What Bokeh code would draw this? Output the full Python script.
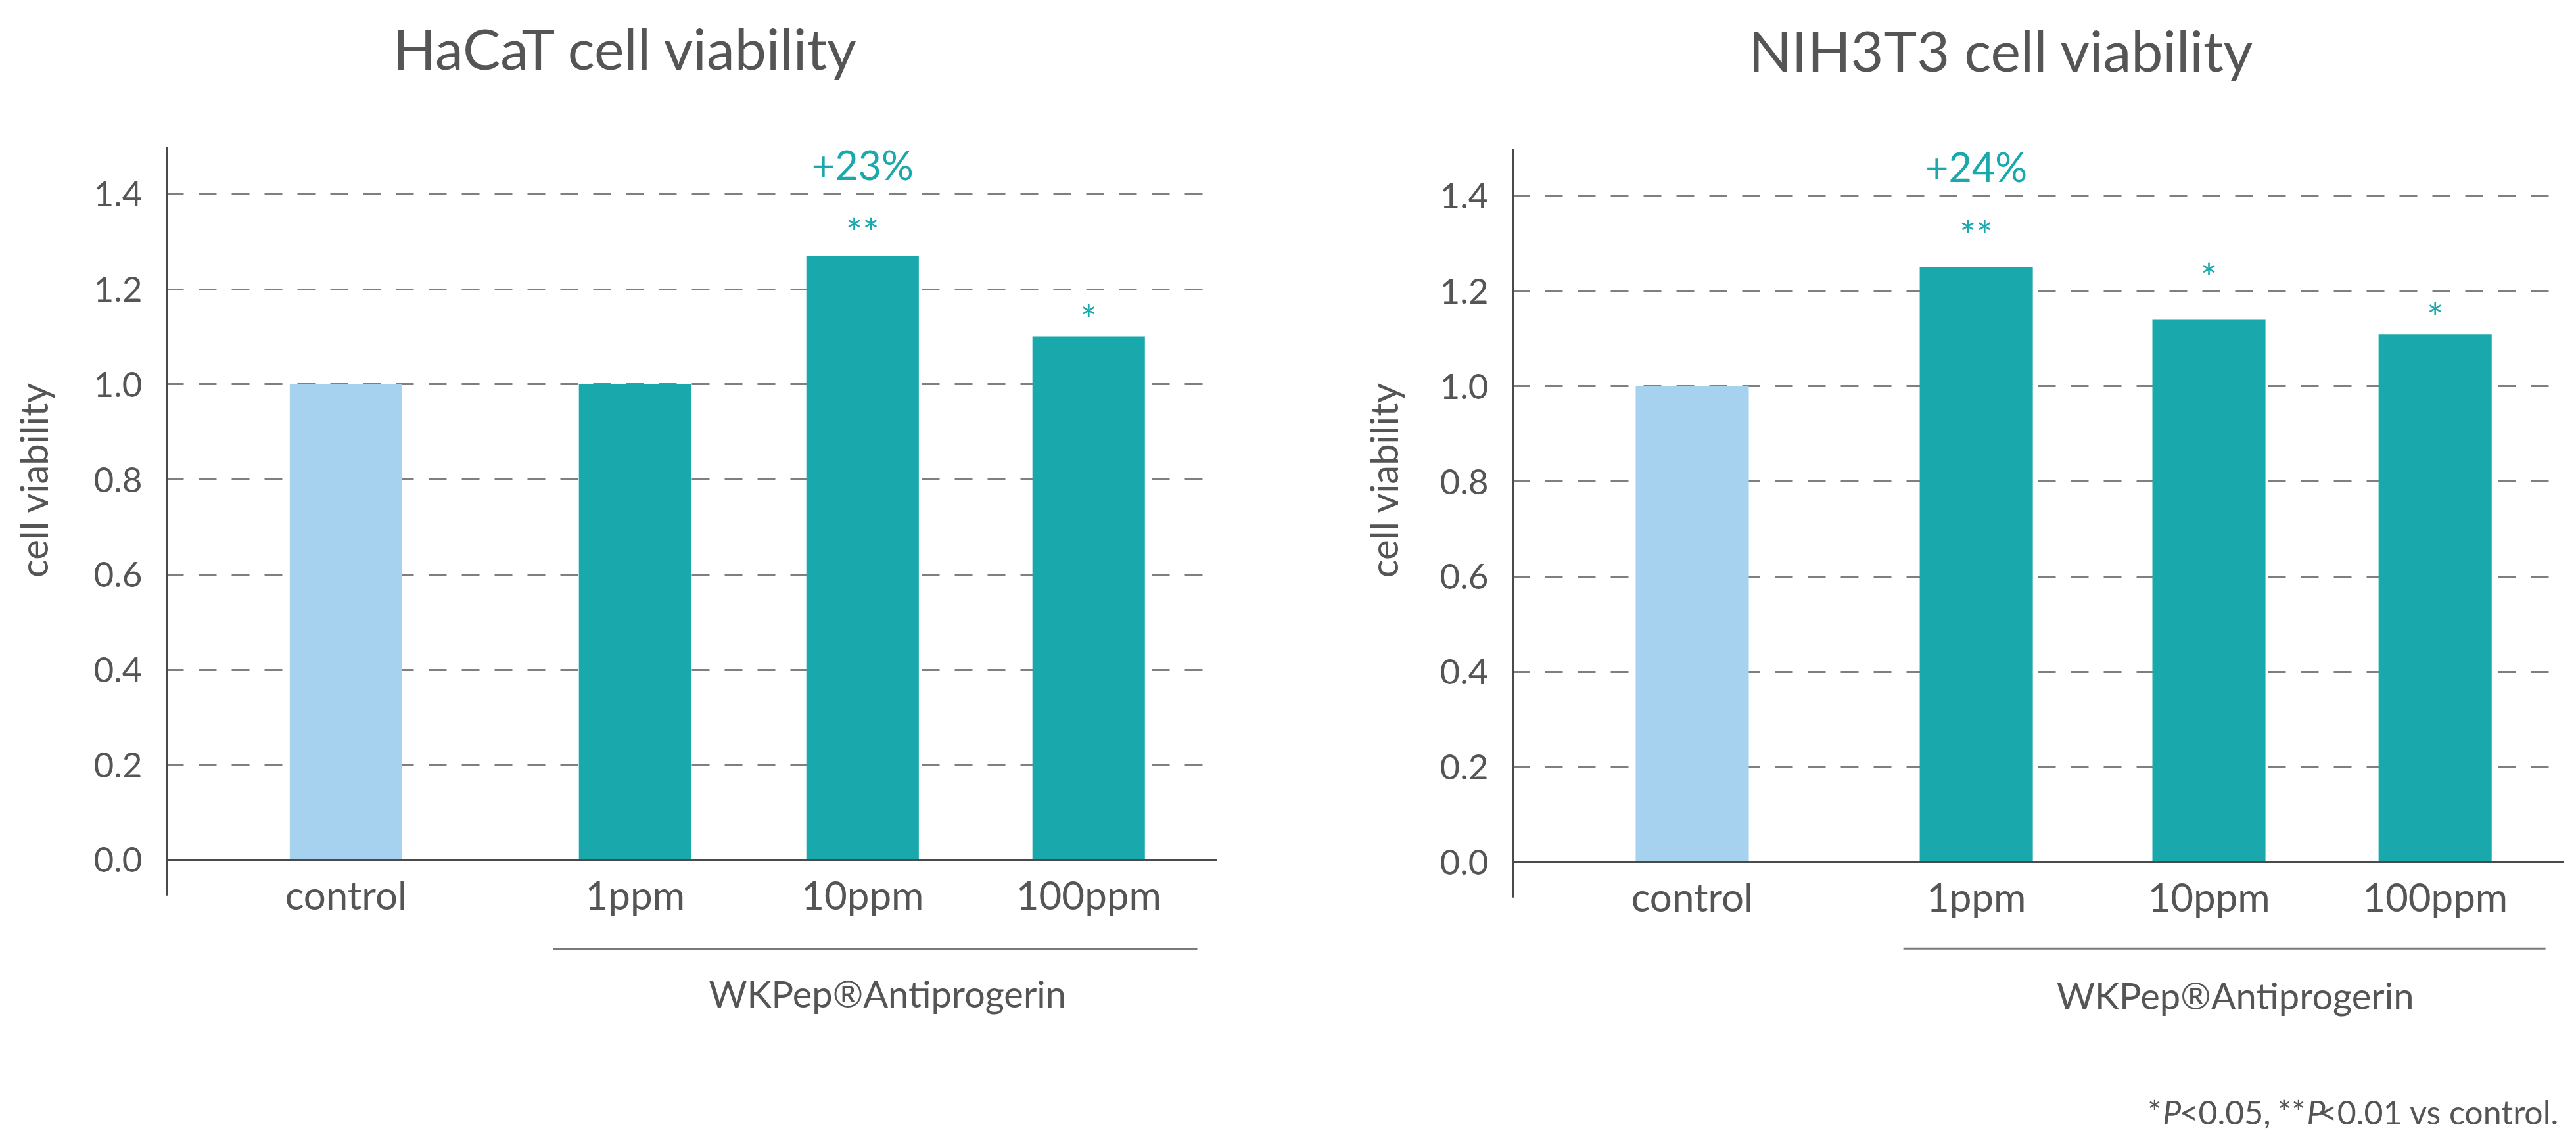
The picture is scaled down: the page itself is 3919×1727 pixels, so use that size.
import math
from bokeh.plotting import figure
from bokeh.models import ColumnDataSource, Range1d, FixedTicker, NumeralTickFormatter
from bokeh.layouts import row
from bokeh.embed import file_html
from bokeh.resources import INLINE
from bokeh.core.properties import value

# ---------------- data ----------------
categories = ["control", "1ppm", "10ppm", "100ppm"]
hacat_values = [1.00, 1.00, 1.27, 1.10]
nih_values = [1.00, 1.25, 1.14, 1.11]
hacat_stars = ["", "", "**", "*"]
nih_stars = ["", "**", "*", "*"]
hacat_gain = ("10ppm", "+23%")
nih_gain = ("1ppm", "+24%")
y_ticks = [0.0, 0.2, 0.4, 0.6, 0.8, 1.0, 1.2, 1.4]
y_tick_labels = ["0.0", "0.2", "0.4", "0.6", "0.8", "1.0", "1.2", "1.4"]
titles = ["HaCaT cell viability", "NIH3T3 cell viability"]
y_label = "cell viability"
group_label = "WKPep®Antiprogerin"
footnote = [("*", "normal"), ("P", "italic"), ("<0.05, ", "normal"), ("**", "normal"),
            ("P", "italic"), ("<0.01 vs control.", "normal")]

# ---------------- style ----------------
FONT = value("Lato")
TEAL = "#19a9ac"
LIGHT = "#a6d2f0"
TXT = "#555555"
AXIS = "#4a4a4a"
GRID = "#7f7f7f"
bar_colors = [LIGHT, TEAL, TEAL, TEAL]
H = 1725
SHIFT = 0.36  # empirical baseline correction (fraction of font size)

# layout (in axis units)
L_left = dict(strip=130, w=1878, mbl=122, mbr=157, xr=(-0.794, 3.841), yr=(-0.5763, 1.8076), unit=345.0,
              pos=[0, 1.275, 2.278, 3.275], bw=0.496,
              title_xy=(1.235, 1.665), star_y=[None, None, 1.34, 1.158], gain_y=1.432,
              bracket=(0.913, 3.754, -0.187), group_xy=(2.388, -0.309), ylab=(50, 0.799))
L_right = dict(strip=160, w=1749, mbl=132, mbr=17, xr=(-0.785, 3.799), yr=(-0.5721, 1.8118), unit=349.0,
               pos=[0, 1.238, 2.252, 3.238], bw=0.493,
               title_xy=(1.347, 1.665), star_y=[None, 1.339, 1.249, 1.166], gain_y=1.432,
               bracket=(0.92, 3.719, -0.182), group_xy=(2.367, -0.309), ylab=(96, 0.803))


def label_strip(L):
    s = figure(width=L["strip"], height=H, x_range=Range1d(0, L["strip"]), y_range=Range1d(*L["yr"]),
               output_backend="svg", toolbar_location=None, x_axis_location=None, y_axis_location=None,
               min_border_left=0, min_border_right=0, min_border_top=0, min_border_bottom=0)
    s.outline_line_color = None
    s.grid.visible = False
    lx, ly = L["ylab"]
    s.text(x=[lx], y=[ly], text=[y_label], angle=math.pi / 2, text_font=FONT, text_font_size="58px",
           text_color=TXT, text_align="center", text_baseline="middle")
    return s


def atext(p, x, y, text, fs, color, align="center", style="normal"):
    p.text(x=x, y=y, text=text, text_font=FONT, text_font_size=f"{fs}px", text_font_style=style,
           text_color=color, text_align=align, text_baseline="alphabetic", y_offset=-SHIFT * fs)


def panel(title, vals, stars, gain, L, foot=False):
    p = figure(width=L["w"], height=H, x_range=Range1d(*L["xr"]), y_range=Range1d(*L["yr"]),
               output_backend="svg", toolbar_location=None, x_axis_location=None,
               min_border_left=L["mbl"], min_border_right=L["mbr"], min_border_top=0, min_border_bottom=0)
    p.outline_line_color = None
    p.xgrid.visible = False

    ax = p.yaxis[0]
    ax.ticker = FixedTicker(ticks=y_ticks)
    ax.formatter = NumeralTickFormatter(format="0.0")
    ax.major_label_overrides = {t: s for t, s in zip(y_ticks, y_tick_labels)}
    ax.axis_line_color = None
    ax.major_tick_line_color = None
    ax.minor_tick_line_color = None
    ax.major_label_text_font = "Lato"
    ax.major_label_text_font_size = "53px"
    ax.major_label_text_color = TXT
    ax.major_label_standoff = 30

    p.ygrid.ticker = FixedTicker(ticks=y_ticks[1:])
    p.ygrid.grid_line_color = GRID
    p.ygrid.grid_line_width = 3
    p.ygrid.grid_line_dash = "27 23"

    xpos = dict(zip(categories, L["pos"]))
    src = ColumnDataSource(dict(x=L["pos"], top=vals, color=bar_colors, cat=categories))
    p.vbar(x="x", top="top", bottom=0, width=L["bw"], fill_color="color", line_color=None, source=src)

    # axis lines
    x0, x1 = L["xr"]
    px = 1.0 / L["unit"]
    p.segment(x0=[x0], y0=[0], x1=[x1], y1=[0], line_color=AXIS, line_width=3)
    p.segment(x0=[x0 + 1.5 * px], y0=[-0.075], x1=[x0 + 1.5 * px], y1=[1.5], line_color=AXIS, line_width=3)

    # category labels
    atext(p, L["pos"], [-0.102] * 4, categories, 60, TXT)

    # bracket + group label
    bx0, bx1, by = L["bracket"]
    p.segment(x0=[bx0], y0=[by], x1=[bx1], y1=[by], line_color="#7a7a7a", line_width=3)
    gx, gy = L["group_xy"]
    atext(p, [gx], [gy], [group_label], 56, TXT)

    # title
    tx, ty = L["title_xy"]
    atext(p, [tx], [ty], [title], 86, TXT)

    # significance stars
    sx, sy, st = [], [], []
    for c, s, yy in zip(categories, stars, L["star_y"]):
        if s:
            sx.append(xpos[c]); sy.append(yy); st.append(s)
    p.text(x=sx, y=sy, text=st, text_font=FONT, text_font_size="60px", text_color=TEAL,
           text_align="center", text_baseline="middle", y_offset=14)

    # gain label
    gc, gt = gain
    atext(p, [xpos[gc]], [L["gain_y"]], [gt], 61, TEAL)

    if foot:
        fs = 50
        widths = {"*": 0.40, "P": 0.60, "<0.05, ": 2.98, "**": 0.80, "<0.01 vs control.": 7.12}
        cur = 3.779
        for txt, style in reversed(footnote):
            atext(p, [cur], [-0.550], [txt], fs, TXT, align="right", style=style)
            cur -= widths[txt] * fs / L["unit"]
    return p


p1 = panel(titles[0], hacat_values, hacat_stars, hacat_gain, L_left)
p2 = panel(titles[1], nih_values, nih_stars, nih_gain, L_right, foot=True)
layout = row(label_strip(L_left), p1, label_strip(L_right), p2, spacing=0)

open("out.html", "w").write(file_html(layout, INLINE))
